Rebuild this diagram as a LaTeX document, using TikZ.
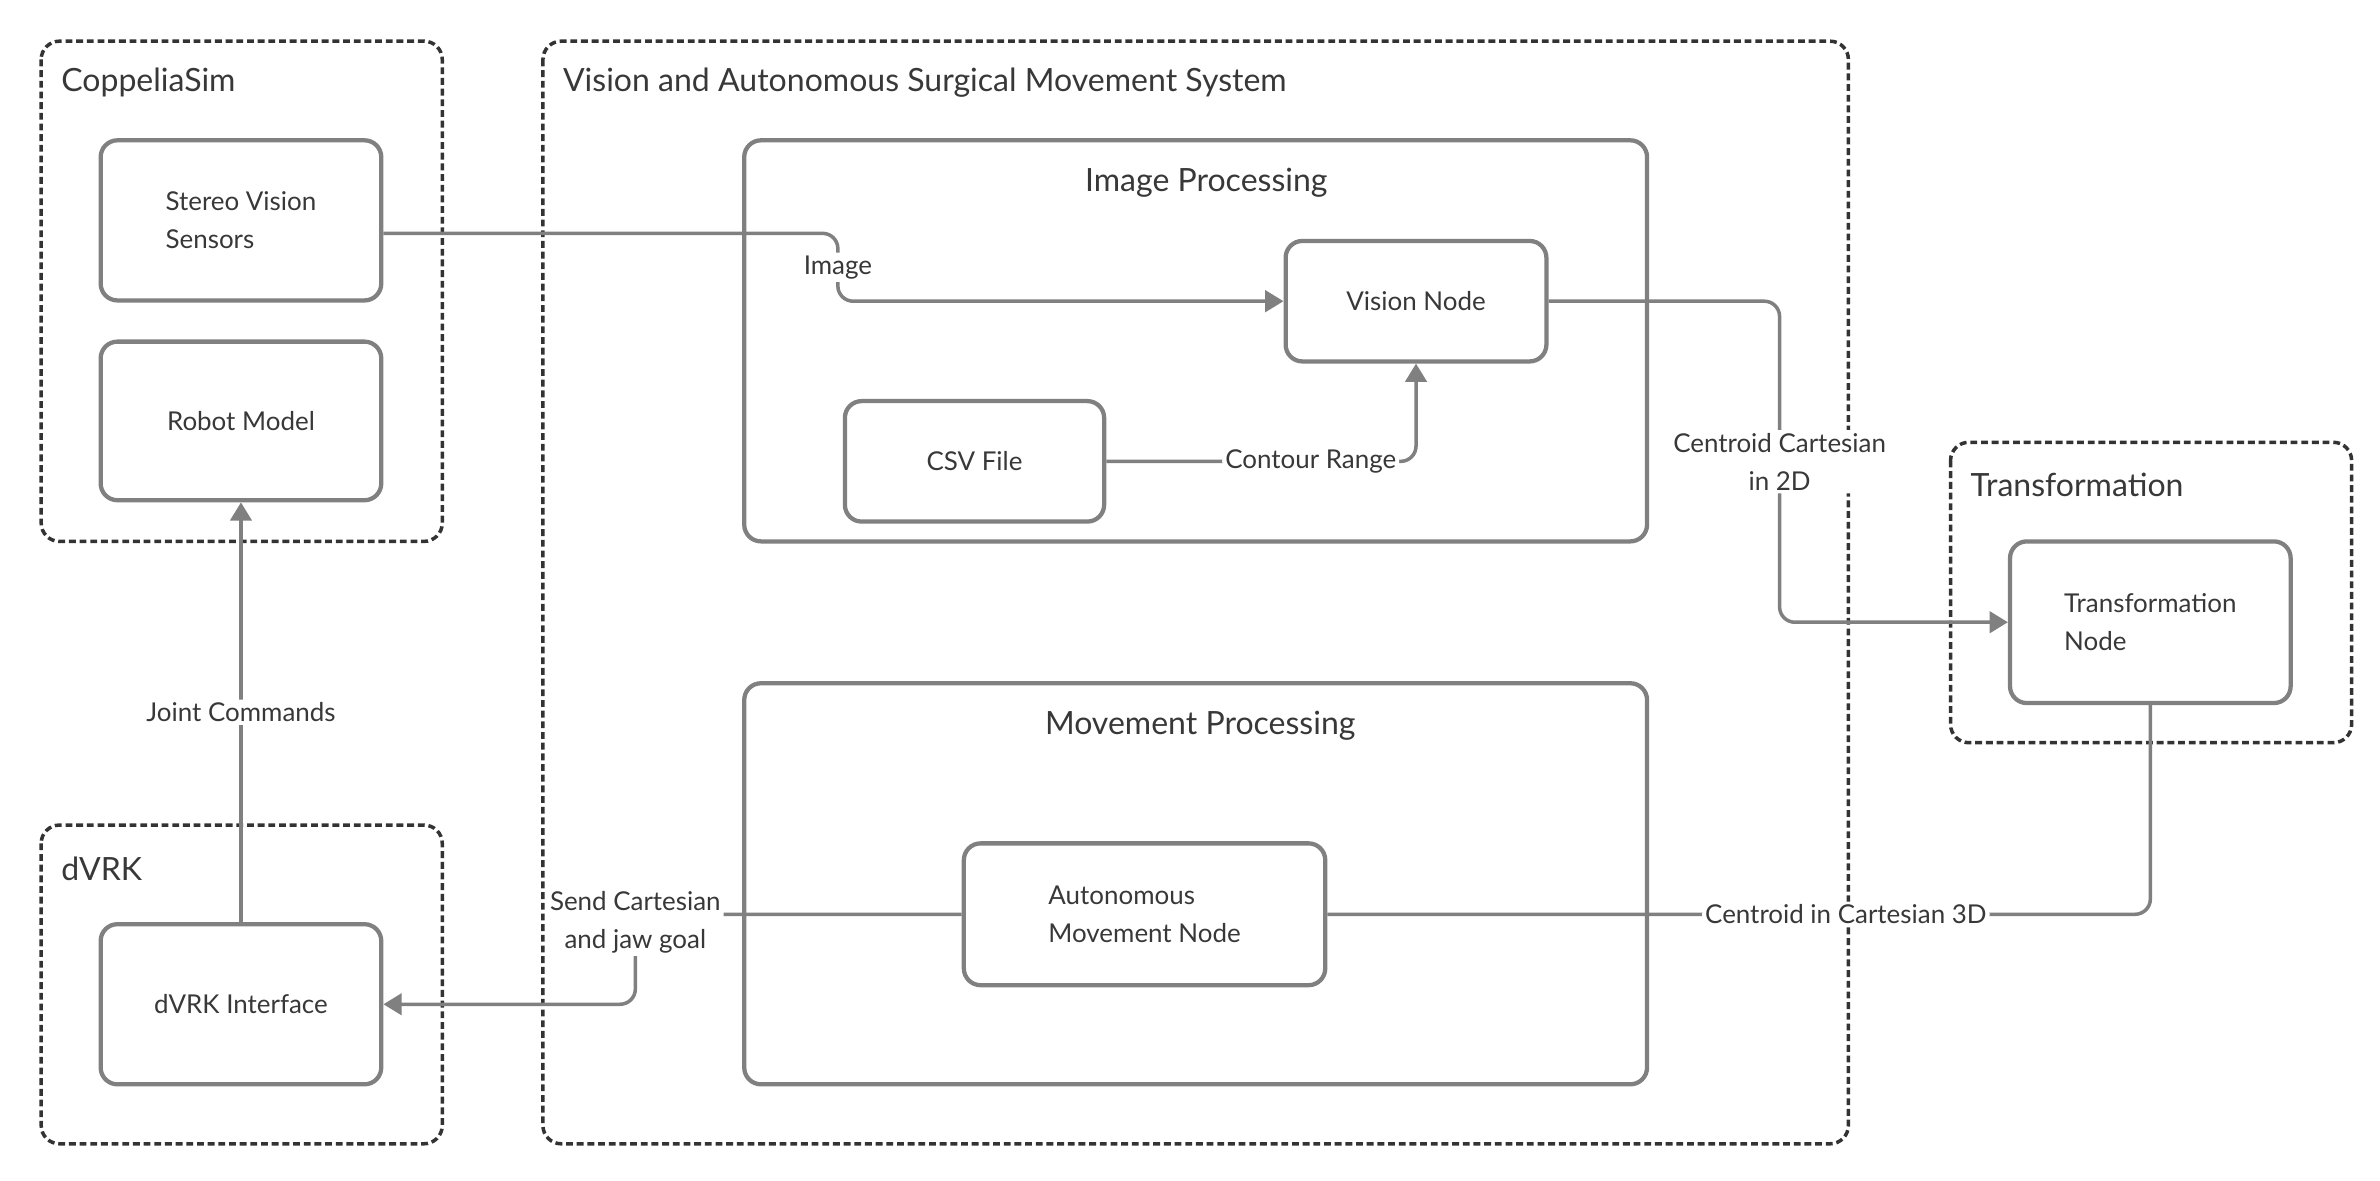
\documentclass[tikz,border=0pt]{standalone}
\usepackage{fontspec}
\setmainfont{Lato}
\usepackage{tikz}
\usetikzlibrary{arrows.meta}
\definecolor{linegray}{rgb}{0.5, 0.5, 0.5}
\definecolor{framegray}{rgb}{0.2, 0.2, 0.2}
\definecolor{textgray}{rgb}{0.22, 0.22, 0.22}

\begin{document}
\begin{tikzpicture}[x=1pt,y=-1pt,
        group/.style={draw=framegray,line width=2.3pt,dash pattern=on 4.5pt off 2.5pt,rounded corners=12pt},
        grouptitle/.style={anchor=west,inner sep=0pt,text=textgray,font=\fontsize{21}{25}\selectfont},
        panel/.style={draw=linegray,line width=2.8pt,rounded corners=11pt},
        block/.style={draw=linegray,line width=2.8pt,rounded corners=11pt,align=left,text=textgray,
            font=\fontsize{17}{25}\selectfont},
        link/.style={draw=linegray,line width=2.3pt,rounded corners=10pt},
        tag/.style={fill=white,inner sep=2pt,text=textgray,font=\fontsize{17}{25}\selectfont},
        >={Triangle[length=12pt,width=14pt]}]
        \useasboundingbox (0,0) rectangle (1560.6,773.8);
        % groups
        \draw[group] (27,27) rectangle (290,355);
        \draw[group] (356,27) rectangle (1212,750);
        \draw[group] (27,541) rectangle (290,750);
        \draw[group] (1279,290) rectangle (1542,487);
        \node[grouptitle] (coppeliatitle) at (40,54) {CoppeliaSim};
        \node[grouptitle] (systemtitle)   at (369,54) {Vision and Autonomous Surgical Movement System};
        \node[grouptitle] (dvrktitle)     at (40,570) {dVRK};
        \node[grouptitle] (transtitle)    at (1292,318) {Transformation};
        % processing panels
        \draw[panel] (488,92) rectangle (1080,355);
        \draw[panel] (488,448) rectangle (1080,711);
        \node[grouptitle,anchor=center] (imgtitle)  at (791,120) {Image Processing};
        \node[grouptitle,anchor=center] (movetitle) at (787,476) {Movement Processing};
        % blocks
        \node[block,minimum width=184,minimum height=105] (stereo) at (158,144.5) {Stereo Vision\\Sensors};
        \node[block,minimum width=184,minimum height=104] (robot)  at (158,276) {Robot Model};
        \node[block,minimum width=184,minimum height=105] (dvrkif) at (158,658.5) {dVRK Interface};
        \node[block,minimum width=171,minimum height=79]  (vision) at (928.5,197.5) {Vision Node};
        \node[block,minimum width=170,minimum height=79]  (csv)    at (639,302.5) {CSV File};
        \node[block,minimum width=237,minimum height=93]  (auto)   at (750.5,599.5) {Autonomous\\Movement Node};
        \node[block,minimum width=184,minimum height=106] (trans)  at (1410,408) {Transformation\\Node};
        % connectors
        \draw[link,->] ([yshift=-8.5pt]stereo.east) -- ++(298,0) |- (vision.west) node[tag,pos=0.25] (imagetag) {Image};
        \draw[link,->] (csv.east) -| (vision.south) node[tag,pos=0.33] (contourtag) {Contour Range};
        \draw[link,->] (vision.east) -- ++(151.5,0) |- (trans.west)
            node[tag,pos=0.25,align=center] (centroid2dtag) {Centroid Cartesian\\in 2D};
        \draw[link] (trans.south) |- (auto.east) node[tag,pos=0.685] (centroid3dtag) {Centroid in Cartesian 3D};
        \draw[link,->] (auto.west) -- ++(-214,0) |- (dvrkif.east)
            node[tag,pos=0,align=center,yshift=-5pt] (goaltag) {Send Cartesian\\and jaw goal};
        \draw[link,->] (dvrkif.north) -- (robot.south) node[tag,midway] (jointtag) {Joint Commands};
    \end{tikzpicture}
\end{document}
